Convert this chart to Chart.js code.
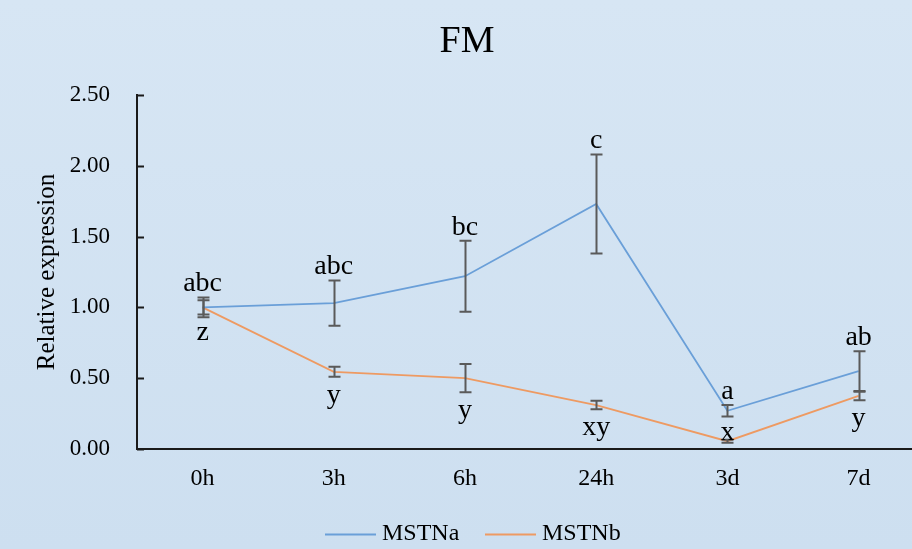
<!DOCTYPE html>
<html>
<head>
<meta charset="utf-8">
<script src="https://cdn.jsdelivr.net/npm/chart.js@4/dist/chart.umd.min.js"></script>
<style>
  html, body { margin: 0; padding: 0; }
  #wrap { width: 912px; height: 549px; position: relative; }
</style>
</head>
<body>
<div id="wrap"><canvas id="c" width="912" height="549"></canvas></div>
<script>
// Sampling times
const categories = ['0h', '3h', '6h', '24h', '3d', '7d'];

// Mean relative expression and error (±) for each gene
const mstnaValues = [1.00, 1.03, 1.22, 1.73, 0.27, 0.55];
const mstnaErrors = [0.07, 0.16, 0.25, 0.35, 0.04, 0.14];
const mstnbValues = [1.00, 0.545, 0.50, 0.31, 0.055, 0.375];
const mstnbErrors = [0.05, 0.035, 0.10, 0.03, 0.01, 0.03];

// Significance letters
const mstnaLetters = ['abc', 'abc', 'bc', 'c', 'a', 'ab'];
const mstnbLetters = ['z', 'y', 'y', 'xy', 'x', 'y'];

// Y axis tick values
const yTicks = [0, 0.5, 1.0, 1.5, 2.0, 2.5];

// Where each MSTNb letter sits relative to its error bar
const mstnbLetterSide = ['below', 'below', 'below', 'below', 'above', 'below'];

const SERIF = '"Liberation Serif", "Times New Roman", "DejaVu Serif", serif';
const BLUE = '#6a9fd8';
const ORANGE = '#ee9a62';
const ERR = '#5a5a5a';

const toPoints = vals => vals.map((v, i) => ({ x: i, y: v }));

const chromePlugin = {
  id: 'chrome',
  beforeDraw(chart) {
    const { ctx, width, height } = chart;
    const g = ctx.createLinearGradient(0, 0, 0, height);
    g.addColorStop(0, '#d7e6f4');
    g.addColorStop(1, '#cddff0');
    ctx.save();
    ctx.fillStyle = g;
    ctx.fillRect(0, 0, width, height);
    ctx.restore();
  },
  afterDraw(chart) {
    const { ctx } = chart;
    const ys = chart.scales.y;
    const area = chart.chartArea;
    ctx.save();
    // inward tick marks on the value axis
    ctx.strokeStyle = '#1a1a1a';
    ctx.lineWidth = 2;
    yTicks.forEach(t => {
      const py = Math.round(ys.getPixelForValue(t)) + 0.5;
      ctx.beginPath();
      ctx.moveTo(area.left, py);
      ctx.lineTo(area.left + 7, py);
      ctx.stroke();
    });
    // title
    ctx.fillStyle = '#000';
    ctx.font = '38px ' + SERIF;
    ctx.textAlign = 'center';
    ctx.textBaseline = 'middle';
    ctx.fillText('FM', 467, 42);
    // axis title
    ctx.save();
    ctx.translate(47, 272);
    ctx.rotate(-Math.PI / 2);
    ctx.font = '25px ' + SERIF;
    ctx.fillText('Relative expression', 0, 0);
    ctx.restore();
    // legend
    const legendItems = [
      { label: 'MSTNa', color: BLUE, x: 325 },
      { label: 'MSTNb', color: ORANGE, x: 485 }
    ];
    ctx.font = '24px ' + SERIF;
    ctx.textAlign = 'left';
    ctx.textBaseline = 'middle';
    legendItems.forEach(it => {
      ctx.strokeStyle = it.color;
      ctx.lineWidth = 2;
      ctx.beginPath();
      ctx.moveTo(it.x, 534.5);
      ctx.lineTo(it.x + 51, 534.5);
      ctx.stroke();
      ctx.fillStyle = '#000';
      ctx.fillText(it.label, it.x + 57, 534);
    });
    ctx.restore();
  },
  afterDatasetsDraw(chart) {
    const { ctx } = chart;
    const xs = chart.scales.x;
    const ys = chart.scales.y;
    ctx.save();
    ctx.strokeStyle = ERR;
    ctx.lineWidth = 2;
    const drawErr = (vals, errs) => {
      vals.forEach((v, i) => {
        const px = Math.round(xs.getPixelForValue(i)) + 0.5;
        const top = ys.getPixelForValue(v + errs[i]);
        const bot = ys.getPixelForValue(v - errs[i]);
        ctx.beginPath();
        ctx.moveTo(px, top); ctx.lineTo(px, bot);
        ctx.moveTo(px - 6, top); ctx.lineTo(px + 6, top);
        ctx.moveTo(px - 6, bot); ctx.lineTo(px + 6, bot);
        ctx.stroke();
      });
    };
    drawErr(mstnaValues, mstnaErrors);
    drawErr(mstnbValues, mstnbErrors);

    ctx.fillStyle = '#000';
    ctx.font = '28px ' + SERIF;
    ctx.textAlign = 'center';
    ctx.textBaseline = 'alphabetic';
    mstnaLetters.forEach((t, i) => {
      const px = xs.getPixelForValue(i);
      const top = ys.getPixelForValue(mstnaValues[i] + mstnaErrors[i]);
      ctx.fillText(t, px, top - 6);
    });
    mstnbLetters.forEach((t, i) => {
      const px = xs.getPixelForValue(i);
      if (mstnbLetterSide[i] === 'above') {
        const top = ys.getPixelForValue(mstnbValues[i] + mstnbErrors[i]);
        ctx.fillText(t, px, top);
      } else {
        const bot = ys.getPixelForValue(mstnbValues[i] - mstnbErrors[i]);
        ctx.fillText(t, px, bot + 26);
      }
    });
    ctx.restore();
  }
};

new Chart(document.getElementById('c'), {
  type: 'line',
  data: {
    datasets: [
      {
        label: 'MSTNa',
        data: toPoints(mstnaValues),
        borderColor: BLUE,
        borderWidth: 1.8,
        pointRadius: 0,
        tension: 0,
        fill: false
      },
      {
        label: 'MSTNb',
        data: toPoints(mstnbValues),
        borderColor: ORANGE,
        borderWidth: 1.8,
        pointRadius: 0,
        tension: 0,
        fill: false
      }
    ]
  },
  options: {
    responsive: false,
    animation: false,
    devicePixelRatio: 1,
    layout: { padding: { top: 95, right: 0, bottom: 60, left: 0 } },
    plugins: {
      legend: { display: false },
      title: { display: false },
      tooltip: { enabled: false }
    },
    scales: {
      x: {
        type: 'linear',
        min: -0.5,
        max: 5.407,
        afterBuildTicks: axis => { axis.ticks = categories.map((_, i) => ({ value: i })); },
        afterFit: s => { s.height = 40; },
        grid: { display: false, drawTicks: false },
        border: { display: true, color: '#1a1a1a', width: 2 },
        ticks: {
          autoSkip: false,
          maxRotation: 0,
          padding: 15,
          color: '#000',
          font: { family: SERIF, size: 24 },
          callback: v => categories[v]
        }
      },
      y: {
        min: 0,
        max: 2.5,
        afterBuildTicks: axis => { axis.ticks = yTicks.map(v => ({ value: v })); },
        afterFit: s => { s.width = 137; },
        grid: { display: false, drawTicks: false },
        border: { display: true, color: '#1a1a1a', width: 2 },
        ticks: {
          padding: 27,
          color: '#000',
          font: { family: SERIF, size: 23 },
          callback: v => Number(v).toFixed(2)
        }
      }
    }
  },
  plugins: [chromePlugin]
});
</script>
</body>
</html>
